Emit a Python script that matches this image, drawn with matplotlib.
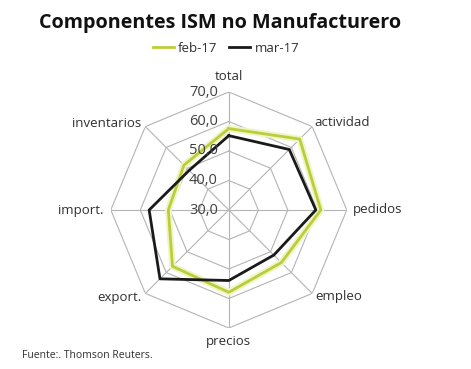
import numpy as np
import matplotlib
matplotlib.use("Agg")
import matplotlib.pyplot as plt
import matplotlib.patheffects as pe
from matplotlib.lines import Line2D

plt.rcParams['font.family'] = ['Open Sans', 'DejaVu Sans']

categories = ['total', 'actividad', 'pedidos', 'empleo', 'precios', 'export.', 'import.', 'inventarios']
feb_17 = [57.6, 64.0, 61.2, 55.2, 57.9, 57.0, 50.5, 51.5]
mar_17 = [55.2, 59.0, 59.5, 51.6, 53.9, 63.0, 57.0, 49.0]
series_names = ['feb-17', 'mar-17']
r_ticks = [30, 40, 50, 60, 70]
r_tick_labels = ['30,0', '40,0', '50,0', '60,0', '70,0']

W, H = 471, 369
fig = plt.figure(figsize=(W / 100, H / 100), dpi=100)
cx, cy, R = 228.8, 210.0, 118.0
ax = fig.add_axes([(cx - R) / W, (H - cy - R) / H, 2 * R / W, 2 * R / H], projection='polar')
ax.set_theta_zero_location('N')
ax.set_theta_direction(-1)
ax.set_ylim(r_ticks[0], r_ticks[-1])
ax.grid(False)
ax.spines['polar'].set_visible(False)
ax.set_xticks([])
ax.set_yticks([])
ax.patch.set_alpha(0)

n = len(categories)
theta = np.arange(n) * 2 * np.pi / n
theta_c = np.append(theta, theta[0])

grid_col = '#b4b4b4'
for lvl in r_ticks[1:]:
    ax.plot(theta_c, [lvl] * (n + 1), color=grid_col, lw=0.8, zorder=1)
for t in theta:
    ax.plot([t, t], [r_ticks[0], r_ticks[-1]], color=grid_col, lw=0.8, zorder=1)

yellow = '#bccd3a'
feb_c = np.append(feb_17, feb_17[0])
mar_c = np.append(mar_17, mar_17[0])
ax.plot(theta_c, feb_c, color=yellow, lw=2.0, zorder=3,
        path_effects=[pe.Stroke(linewidth=4.8, foreground='#f0f5c6'), pe.Normal()])
ax.plot(theta_c, mar_c, color='#1a1a1a', lw=2.0, zorder=4)

# radial tick labels
for v, lab in zip(r_ticks, r_tick_labels):
    ax.annotate(lab, xy=(0, v), xytext=(-11, 0), textcoords='offset pixels',
                ha='right', va='center', fontsize=10.5, color='#404040', zorder=5)

# category labels
offsets = {
    'total': (0, 15, 'center', 'center'),
    'actividad': (2, 4, 'left', 'center'),
    'pedidos': (6, 1, 'left', 'center'),
    'empleo': (3, -3, 'left', 'center'),
    'precios': (0, -14, 'center', 'center'),
    'export.': (-4, -4, 'right', 'center'),
    'import.': (-7, 0, 'right', 'center'),
    'inventarios': (-4, 3, 'right', 'center'),
}
for t, cat in zip(theta, categories):
    dx, dy, ha, va = offsets[cat]
    ax.annotate(cat, xy=(t, r_ticks[-1]), xytext=(dx, dy), textcoords='offset pixels',
                ha=ha, va=va, fontsize=9.5, color='#303030', annotation_clip=False)

fig.text(220 / W, 1 - 23 / H, 'Componentes ISM no Manufacturero', ha='center', va='center',
         fontsize=14.2, fontweight='bold', color='#111111')

handles = [Line2D([], [], color=yellow, lw=2), Line2D([], [], color='#1a1a1a', lw=2)]
fig.legend(handles, series_names, loc='center', bbox_to_anchor=(226 / W, 1 - 48 / H), ncol=2,
           frameon=False, fontsize=9.5, handlelength=1.6, handletextpad=0.3, columnspacing=0.9,
           labelcolor='#303030')

fig.text(21.7 / W, 1 - 355 / H, 'Fuente:. Thomson Reuters.', ha='left', va='center',
         fontsize=7.5, color='#303030')

fig.savefig('out.png', dpi=100)
